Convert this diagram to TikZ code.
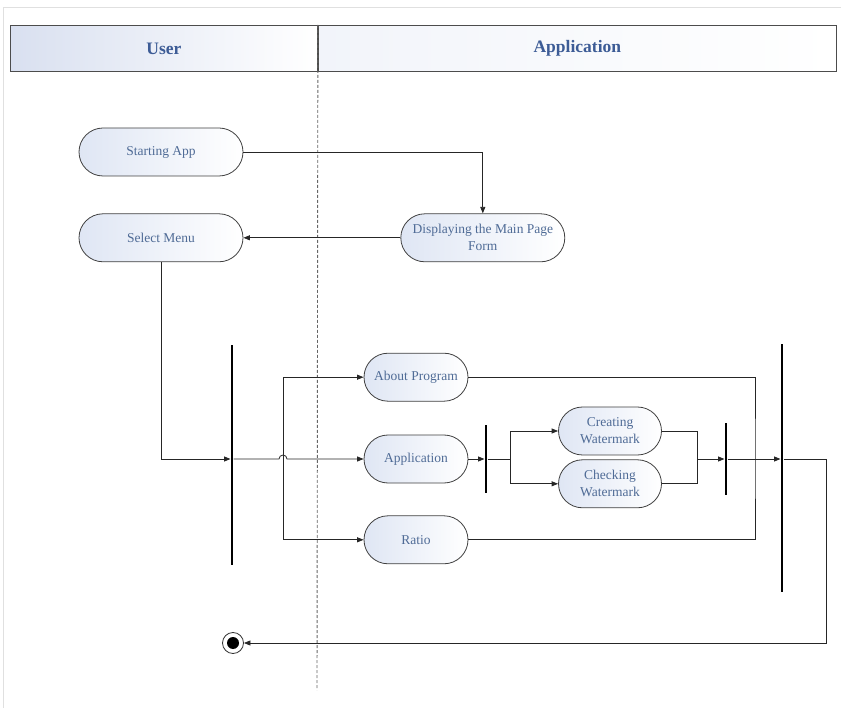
\documentclass[tikz,border=0pt]{standalone}
\usepackage{fontspec}
\setmainfont{Liberation Serif}
\usetikzlibrary{arrows.meta, shapes.misc, positioning, calc}

\definecolor{lanetext}{HTML}{3D5C96}
\definecolor{acttext}{HTML}{4F6B96}
\definecolor{actfill}{HTML}{DFE6F4}
\definecolor{headfill}{HTML}{D9E0F0}

\begin{document}
\begin{tikzpicture}[
      x=1pt, y=-1pt,
      lanehead/.style={rectangle, draw=black!70, line width=0.9pt, minimum height=46pt, anchor=north west, inner sep=0pt, right color=white, text=lanetext, font=\fontsize{17.5}{20}\selectfont\bfseries},
      activity/.style={rounded rectangle, draw=black!75, line width=0.8pt, minimum width=108pt, minimum height=48pt, inner sep=2pt, align=center, left color=actfill, right color=white, text=acttext, font=\fontsize{13.5}{17}\selectfont},
      wide/.style={activity, minimum width=168pt},
      bar/.style={rectangle, fill=black, inner sep=0pt, minimum width=2.6pt},
      line/.style={line width=0.8pt, draw=black!85},
      arrow/.style={line, -{Triangle[length=6.5pt, width=5pt]}},
      lane/.style={draw=black!60, line width=0.9pt, dash pattern=on 3pt off 2pt}
    ]
      \useasboundingbox (0,0) rectangle (841,708);
      \draw[black!12, line width=0.8pt] (3,708) -- (3,7) -- (841,7);

      % swimlane headers
      \node[lanehead, minimum width=307pt, left color=headfill] (userhead) at (10,25) {User};
      \node[lanehead, minimum width=518pt, left color=headfill!35] (apphead) at (userhead.north east) {Application};
      \coordinate (laneend) at (317,690);
      \draw[lane] (userhead.north east) -- (laneend);

      % activities
      \node[wide] (start) at (161,152) {Starting App};
      \node[wide, below=37pt of start] (menu) {Select Menu};
      \node[wide, right=157pt of menu] (mainform) {Displaying the Main Page\\Form};
      \node[activity] (app) at (416,459) {Application};
      \node[activity, above=33pt of app] (about) {About Program};
      \node[activity, below=32pt of app] (ratio) {Ratio};
      \node[activity, minimum width=107pt] (creating) at (610,431) {Creating\\Watermark};
      \node[activity, minimum width=107pt, below=4pt of creating] (checking) {Checking\\Watermark};

      % fork / join bars
      \node[bar, minimum height=220pt] (fork) at (232,455) {};
      \node[bar, minimum height=68pt] (forkb) at (486,459) {};
      \node[bar, minimum height=71pt] (joinb) at (726,459) {};
      \node[bar, minimum height=247pt] (join) at (782,468) {};

      % final state
      \node[circle, draw=black!80, line width=0.8pt, minimum size=21pt, inner sep=0pt] (final) at (233,643) {};
      \node[circle, fill=black, minimum size=12pt, inner sep=0pt] (finaldot) at (final) {};

      \coordinate (split) at (283,459);
      \coordinate (split2) at (510,459);
      \coordinate (merge) at (697,459);
      \coordinate (merge2) at (755,459);
      \coordinate (exit) at (826,643);

      \draw[arrow] (start.east) -| (mainform.north);
      \draw[arrow] (mainform.west) -- (menu.east);
      \draw[arrow] (menu.south) |- (fork.west |- app.west);
      \draw[arrow] (fork.east |- app.west) -- ($(split)+(-4,0)$) arc[start angle=180, end angle=360, radius=4] -- (app.west);
      \draw[line] (about.west -| split) -- (ratio.west -| split);
      \draw[arrow] (about.west -| split) -- (about.west);
      \draw[arrow] (ratio.west -| split) -- (ratio.west);

      \draw[arrow] (app.east) -- (forkb.west |- app.east);
      \draw[line] (forkb.east |- app.east) -- (split2);
      \draw[arrow] (split2) |- (creating.west);
      \draw[arrow] (split2) |- (checking.west);
      \draw[line] (creating.east) -| (merge);
      \draw[line] (checking.east) -| (merge);
      \draw[arrow] (merge) -- (joinb.west |- merge);
      \draw[arrow] (joinb.east |- merge) -- (join.west |- merge);
      \draw[line] (about.east) -| (merge2) |- (ratio.east);
      \draw[arrow] (join.east |- merge) -| (exit) -- (final.east);
    \end{tikzpicture}
\end{document}
